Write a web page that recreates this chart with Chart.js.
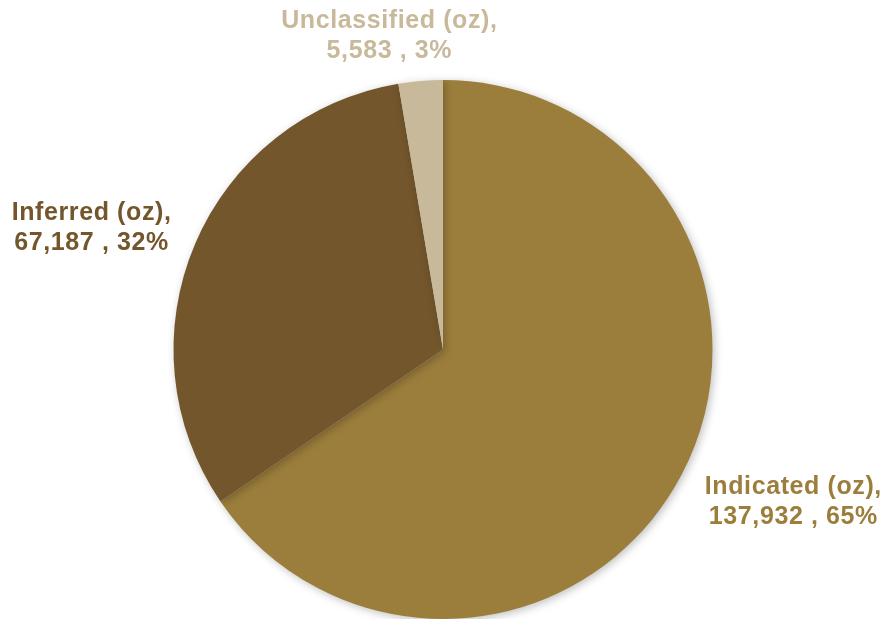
<!DOCTYPE html>
<html>
<head>
<meta charset="utf-8">
<script src="https://cdn.jsdelivr.net/npm/chart.js@4/dist/chart.umd.min.js"></script>
<style>
  html, body { margin: 0; padding: 0; background: #fff; }
  #wrap { width: 885px; height: 619px; }
</style>
</head>
<body>
<div id="wrap"><canvas id="myChart" width="885" height="619"></canvas></div>
<script>
// Data
const categories = ['Indicated (oz)', 'Inferred (oz)', 'Unclassified (oz)'];
const ounces = [137932, 67187, 5583];
const percentLabels = ['65%', '32%', '3%'];
const sliceColors = ['#9C7E3C', '#73562C', '#C8B99A'];

// label placement relative to pie centre, in units of radius
const labelOffsets = [[1.30, 0.566], [-1.304, -0.451], [-0.199, -1.163]];

// soft shadow under the pie
const shadowPlugin = {
  id: 'pieShadow',
  beforeDatasetDraw(chart) {
    const ctx = chart.ctx;
    ctx.save();
    ctx.shadowColor = 'rgba(0,0,0,0.25)';
    ctx.shadowBlur = 8;
    ctx.shadowOffsetX = 2;
    ctx.shadowOffsetY = 2;
  },
  afterDatasetDraw(chart) {
    chart.ctx.restore();
  }
};

// Excel style data labels: "name," / "value , pct"
const labelPlugin = {
  id: 'sliceLabels',
  afterDraw(chart) {
    const ctx = chart.ctx;
    const arcs = chart.getDatasetMeta(0).data;
    ctx.save();
    ctx.font = 'bold 25px "Liberation Sans", Arial, sans-serif';
    if ('letterSpacing' in ctx) ctx.letterSpacing = '0.6px';
    ctx.textAlign = 'center';
    ctx.textBaseline = 'middle';
    arcs.forEach((arc, i) => {
      const r = arc.outerRadius;
      const x = arc.x + labelOffsets[i][0] * r;
      const y = arc.y + labelOffsets[i][1] * r;
      ctx.fillStyle = sliceColors[i];
      ctx.fillText(categories[i] + ',', x, y - 15);
      ctx.fillText(ounces[i].toLocaleString('en-US') + ' , ' + percentLabels[i], x, y + 15);
    });
    ctx.restore();
  }
};

const myChart = new Chart(document.getElementById('myChart'), {
  type: 'pie',
  data: {
    labels: categories,
    datasets: [{
      data: ounces,
      backgroundColor: sliceColors,
      borderWidth: 0,
      hoverOffset: 0
    }]
  },
  options: {
    responsive: false,
    animation: false,
    layout: { padding: { top: 80, bottom: 0, left: 1, right: 0 } },
    plugins: {
      legend: { display: false },
      tooltip: { enabled: false }
    }
  },
  plugins: [shadowPlugin, labelPlugin]
});
</script>
</body>
</html>
